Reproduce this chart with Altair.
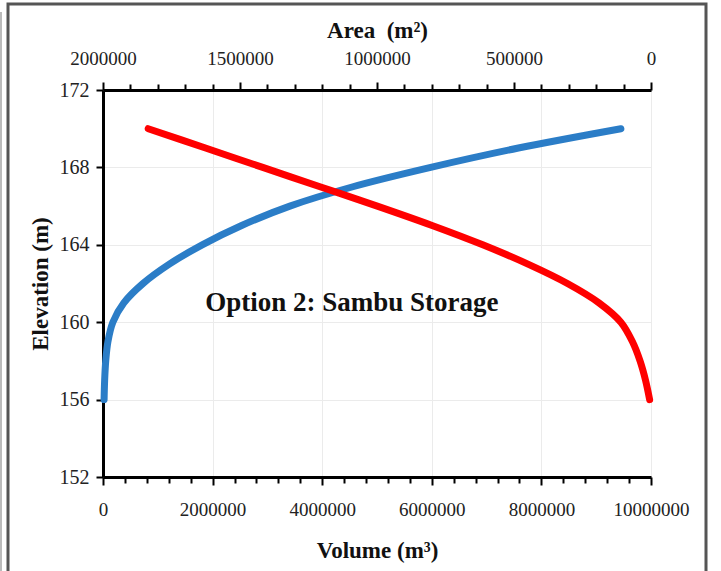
import altair as alt
import pandas as pd

# ---- data ----
# Storage (blue) curve: volume (m3) vs elevation (m)
vol_elev = [156, 157, 158, 159, 160, 161, 162, 163, 164, 165, 166, 167, 168, 169, 170]
vol_m3 = [20000, 30000, 50000, 90000, 180000, 380000, 730000, 1210000, 1810000,
          2530000, 3410000, 4560000, 5980000, 7580000, 9450000]

# Area (red) curve: surface area (m2) vs elevation (m)
area_elev = [156, 157, 158, 159, 160, 161, 162, 163, 164, 165, 166, 167, 168, 169, 170]
area_m2 = [5000, 20000, 40000, 68000, 110000, 190000, 305000, 449000, 614000,
           799000, 999000, 1208000, 1417000, 1626000, 1835000]

# axes ticks / labels
vol_ticks_major = [0, 2000000, 4000000, 6000000, 8000000, 10000000]
vol_minor_step = 400000
area_ticks_major = [0, 500000, 1000000, 1500000, 2000000]
area_minor_step = 100000
elev_ticks = [152, 156, 160, 164, 168, 172]

note_text = ["Option 2: Sambu Storage"]
note_vol = [4540000]
note_elev = [161.0]

# ---- layout ----
W, H = 548, 387
FONT = "Liberation Serif"

blue_df = pd.DataFrame({"Volume": vol_m3, "Elevation": vol_elev})
red_df = pd.DataFrame({"Area": area_m2, "Elevation": area_elev})
note_df = pd.DataFrame({"Volume": note_vol, "Elevation": note_elev, "label": note_text})

vol_vals = list(range(0, vol_ticks_major[-1] + 1, vol_minor_step))
area_vals = list(range(0, area_ticks_major[-1] + 1, area_minor_step))
vol_major_test = "indexof(%s, datum.value) >= 0" % str(vol_ticks_major)
area_major_test = "indexof(%s, datum.value) >= 0" % str(area_ticks_major)

y_scale = alt.Scale(domain=[elev_ticks[0], elev_ticks[-1]], nice=False, zero=False)
y_axis = alt.Axis(
    orient="left", values=elev_ticks, title="Elevation (m)",
    grid=True, gridColor="#ebebeb", gridWidth=1,
    domainColor="black", domainWidth=3,
    tickColor="black", tickWidth=2, tickSize=7,
    labelPadding=7, labelFont=FONT, labelFontSize=20, labelColor="#222",
    titleFont=FONT, titleFontSize=23, titleFontWeight="bold", titleColor="#111",
    titleX=-63, titleY=H / 2, titleAngle=270, titleAlign="center", titleBaseline="middle",
)
y_enc = alt.Y("Elevation:Q", scale=y_scale, axis=y_axis)

vol_scale = alt.Scale(domain=[0, vol_ticks_major[-1]], nice=False, zero=False)
vol_axis = alt.Axis(
    orient="bottom", values=vol_vals, title="Volume (m³)",
    labelExpr="%s ? format(datum.value, 'd') : ''" % vol_major_test,
    labelOverlap=False, labelFlush=False, labelBound=False,
    grid=True, gridColor="#ebebeb", gridWidth=1,
    gridOpacity={"condition": {"test": vol_major_test, "value": 1}, "value": 0},
    domainColor="black", domainWidth=3,
    tickColor="black", tickWidth=2,
    tickSize={"condition": {"test": vol_major_test, "value": 8}, "value": 6},
    labelPadding=15, labelFont=FONT, labelFontSize=19, labelColor="#222",
    titleFont=FONT, titleFontSize=23, titleFontWeight="bold", titleColor="#111",
    titleX=W / 2, titleY=73, titleAlign="center", titleBaseline="middle",
)
x_vol = alt.X("Volume:Q", scale=vol_scale, axis=vol_axis)

area_scale = alt.Scale(domain=[0, area_ticks_major[-1]], nice=False, zero=False, reverse=True)
area_axis = alt.Axis(
    orient="top", values=area_vals, title="Area\u00a0 (m²)",
    labelExpr="%s ? format(datum.value, 'd') : ''" % area_major_test,
    labelOverlap=False, labelFlush=False, labelBound=False,
    grid=False,
    domainColor="black", domainWidth=3,
    tickColor="black", tickWidth=2,
    tickSize={"condition": {"test": area_major_test, "value": 8}, "value": 6},
    labelPadding=14, labelFont=FONT, labelFontSize=19, labelColor="#222",
    titleFont=FONT, titleFontSize=23, titleFontWeight="bold", titleColor="#111",
    titleX=W / 2, titleY=-60, titleAlign="center", titleBaseline="middle",
)

blue = alt.Chart(blue_df).mark_line(
    color="#2B7DC7", strokeWidth=7, strokeCap="round", interpolate="catmull-rom"
).encode(x=x_vol, y=y_enc)

note = alt.Chart(note_df).mark_text(
    font=FONT, fontSize=27, fontWeight="bold", color="#111", align="center", baseline="middle"
).encode(x=x_vol, y=y_enc, text="label:N")

red = alt.Chart(red_df).mark_line(
    color="#FF0000", strokeWidth=7, strokeCap="round", interpolate="catmull-rom"
).encode(
    x=alt.X("Area:Q", scale=area_scale, axis=area_axis),
    y=y_enc,
)

frame = alt.Chart(pd.DataFrame({"k": [0]})).mark_rect(
    fillOpacity=0, stroke="#555555", strokeWidth=3
).encode(
    x=alt.value(-95), x2=alt.value(603), y=alt.value(-86), y2=alt.value(490)
)

edge = alt.Chart(pd.DataFrame({"k": [0]})).mark_rule(
    color="#bbbbbb", strokeWidth=2
).encode(
    x=alt.value(-102), y=alt.value(-78), y2=alt.value(490)
)

chart = alt.layer(
    frame, edge, alt.layer(blue, note), red
).resolve_scale(x="independent").properties(
    width=W, height=H,
    autosize=alt.AutoSizeParams(type="none"),
    padding={"left": 103, "top": 90, "right": 70, "bottom": 94},
    background="white",
).configure_view(stroke=None)

chart.save("out.html", embed_options={"renderer": "svg", "actions": False})
